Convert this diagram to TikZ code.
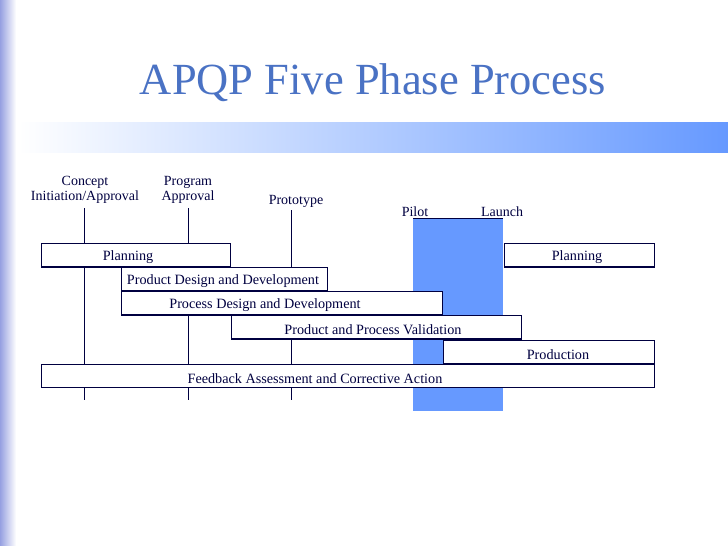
\documentclass[tikz,border=0pt]{standalone}
\usepackage{fontspec}
\setmainfont{Liberation Serif}
\begin{document}
\begin{tikzpicture}[x=1pt,y=-1pt,
  bar/.style={draw=navy,fill=white,line width=0.8pt,minimum height=23pt,inner sep=0pt},
  bt/.style={font=\fontsize{14.2}{16}\selectfont,text=navy,inner sep=0pt},
  lbl/.style={font=\fontsize{14}{15}\selectfont,align=center,inner sep=1pt,text=navy},
  vl/.style={draw=navy,line width=0.7pt}]
\definecolor{navy}{HTML}{000040}
\definecolor{colblue}{HTML}{6699FF}
\definecolor{titleblue}{HTML}{4A72C4}
\useasboundingbox (0,0) rectangle (728,546);
\fill[white] (0,0) rectangle (728,546);
\shade[left color={rgb,255:red,150;green,160;blue,225},right color=white] (0,0) rectangle (16,546);
\shade[left color=white,right color=colblue] (18,122) rectangle (728,152);
\node[font=\fontsize{44.5}{48}\selectfont,text=titleblue] (title) at (373,83) {APQP Five Phase Process};
% blue column
\fill[colblue] (413,218) rectangle (503,411);
\draw[navy,line width=0.7pt] (413,218) -- (503,218);
% milestone labels
\node[lbl] (concept) at (85,190) {Concept\\Initiation/Approval};
\node[lbl] (program) at (188,190) {Program\\Approval};
\node[lbl] (proto) at (296,201) {Prototype};
\node[lbl] (pilot) at (415,212) {Pilot};
\node[lbl] (launch) at (502,212) {Launch};
\coordinate (c1) at (84,400); \coordinate (c2) at (188,400); \coordinate (c3) at (291,400);
\draw[vl] (84,208) -- (c1);
\draw[vl] (188,208) -- (c2);
\draw[vl] (291,210) -- (c3);
% bars
\node[bar,minimum width=189pt,anchor=north west] (plan1) at (41,243) {};
\node[bt] at (128,257.5) {Planning};
\node[bar,minimum width=150pt,anchor=north west] (plan2) at (504,243) {};
\node[bt] at (577,257.5) {Planning};
\node[bar,minimum width=206pt,anchor=north west] (pdd) at (121,267) {};
\node[bt] at (223,281.5) {Product Design and Development};
\node[bar,minimum width=321pt,anchor=north west] (prdd) at (121,291) {};
\node[bt] at (265,305.5) {Process Design and Development};
\node[bar,minimum width=290pt,anchor=north west] (ppv) at (231,315) {};
\node[bt] at (373,329.5) {Product and Process Validation};
\node[bar,minimum width=211pt,anchor=north west] (prod) at (443,340) {};
\node[bt] at (558,354.5) {Production};
\node[bar,minimum width=613pt,anchor=north west] (fb) at (41,364) {};
\node[bt] at (315,378.5) {Feedback Assessment and Corrective Action};
\foreach \b in {plan1,plan2,pdd,prdd,ppv,prod} \draw[navy,line width=1.6pt] (\b.south west) -- (\b.south east);
\end{tikzpicture}
\end{document}
